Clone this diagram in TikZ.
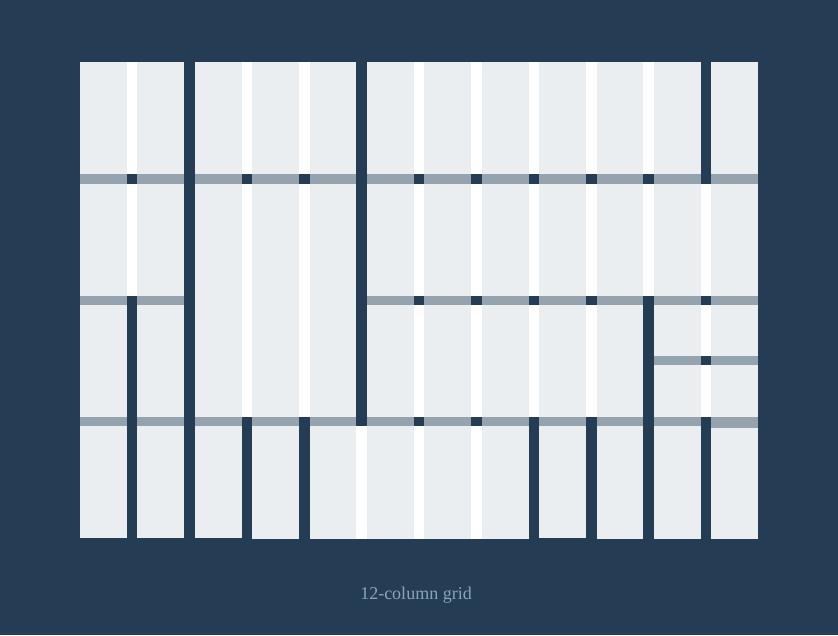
\documentclass[tikz,border=0pt]{standalone}
\usepackage{fontspec}
\setmainfont{Liberation Serif}
\definecolor{bgnavy}{HTML}{243C54}
\definecolor{celllight}{HTML}{EBEEF1}
\definecolor{bargray}{HTML}{95A3AE}
\definecolor{captioncol}{HTML}{8AA4BC}
\tikzset{
  cellfill/.style={fill=celllight},
  gutterfill/.style={fill=white},
  barfill/.style={fill=bargray},
  captionstyle/.style={text=captioncol, font=\fontsize{18}{20}\selectfont, inner sep=0pt}
}
\def\xo{80}
\def\pitch{57.4}
\def\colw{46.7}
% group of columns #1..#2 between y=#3 and y=#4, white gutters inside
\newcommand{\gridgroup}[4]{%
  \fill[cellfill] ({\xo+(#1-1)*\pitch},#3) rectangle ({\xo+(#2-1)*\pitch+\colw},#4);
  \ifnum#1<#2\relax
    \pgfmathtruncatemacro{\gglast}{#2-1}%
    \foreach \k in {#1,...,\gglast}{%
      \fill[gutterfill] ({\xo+(\k-1)*\pitch+\colw},#3) rectangle ({\xo+\k*\pitch},#4);}%
  \fi}
% gray bar over column #1 between y=#2 and y=#3
\newcommand{\gridbar}[3]{%
  \fill[barfill] ({\xo+(#1-1)*\pitch},#2) rectangle ({\xo+(#1-1)*\pitch+\colw},#3);}
\begin{document}
\begin{tikzpicture}[x=1pt,y=-1pt]
\useasboundingbox (0,0) rectangle (838,635);
\fill[bgnavy] (0,0) rectangle (838,635);

% row 1
\gridgroup{1}{2}{62}{174.3}
\gridgroup{3}{5}{62}{174.3}
\gridgroup{6}{11}{62}{174.3}
\gridgroup{12}{12}{62}{174.3}
% row 2
\gridgroup{1}{2}{184.3}{296}
\gridgroup{3}{5}{184.3}{416.7}
\gridgroup{6}{12}{184.3}{296}
% row 3
\gridgroup{1}{1}{305.3}{416.7}
\gridgroup{2}{2}{305.3}{416.7}
\gridgroup{6}{10}{305.3}{416.7}
\gridgroup{11}{12}{305.3}{355.7}
\gridgroup{11}{12}{365}{416.7}
% row 4
\gridgroup{1}{1}{426.3}{537.5}
\gridgroup{2}{2}{426.3}{538}
\gridgroup{3}{3}{426.3}{538}
\gridgroup{4}{4}{426.3}{538.7}
\gridgroup{5}{8}{426.3}{538.7}
\gridgroup{9}{9}{426.3}{537.8}
\gridgroup{10}{10}{426.3}{538.7}
\gridgroup{11}{11}{426.3}{538.7}
\gridgroup{12}{12}{428}{539.3}

% horizontal bars
\foreach \c in {1,...,12}{\gridbar{\c}{174.3}{184.3}}
\foreach \c in {1,2,6,7,8,9,10,11,12}{\gridbar{\c}{296}{305.3}}
\foreach \c in {11,12}{\gridbar{\c}{355.7}{365}}
\foreach \c in {1,...,11}{\gridbar{\c}{416.7}{426.3}}
\gridbar{12}{416.7}{428}

\node[captionstyle, anchor=base] (caption) at (416,599) {12-column grid};
\end{tikzpicture}
\end{document}
